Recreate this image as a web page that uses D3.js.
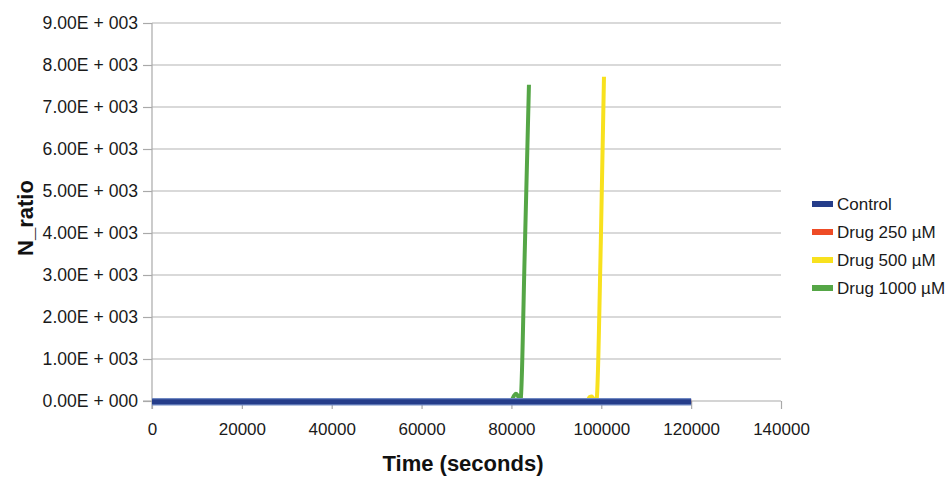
<!DOCTYPE html>
<html>
<head>
<meta charset="utf-8">
<script src="https://cdn.jsdelivr.net/npm/d3@7"></script>
<style>
  html, body { margin: 0; padding: 0; background: #fff; }
  svg { display: block; font-family: "Liberation Sans", Arial, sans-serif; }
</style>
</head>
<body>
<svg id="chart" width="949" height="477"></svg>
<script>
// ---- Data ----
const seriesNames = ["Control", "Drug 250 \u00b5M", "Drug 500 \u00b5M", "Drug 1000 \u00b5M"];
const seriesColors = ["#253d8a", "#ee4b25", "#f8e11e", "#55a646"];

const controlTime = [0, 10000, 20000, 30000, 40000, 50000, 60000, 70000, 80000, 90000, 100000, 110000, 120000];
const controlValue = [0, 0, 0, 0, 0, 0, 0, 0, 0, 0, 0, 0, 0];

const drug250Time = [0, 20000, 40000, 60000, 80000, 100000, 120000];
const drug250Value = [0, 0, 0, 0, 0, 0, 0];

const drug500Time = [0, 20000, 40000, 60000, 80000, 95000, 96800, 97400, 97900, 98500, 98900, 99900, 100600];
const drug500Value = [0, 0, 0, 0, 0, 0, 0, 90, 110, 0, 0, 3800, 7720];

const drug1000Time = [0, 20000, 40000, 60000, 78000, 79900, 80600, 81000, 81400, 82000, 83000, 83900];
const drug1000Value = [0, 0, 0, 0, 0, 0, 130, 170, 130, 0, 3700, 7530];

const xTicks = [0, 20000, 40000, 60000, 80000, 100000, 120000, 140000];
const yTicks = [0, 1000, 2000, 3000, 4000, 5000, 6000, 7000, 8000, 9000];
const yTickLabels = ["0.00E + 000", "1.00E + 003", "2.00E + 003", "3.00E + 003", "4.00E + 003",
                     "5.00E + 003", "6.00E + 003", "7.00E + 003", "8.00E + 003", "9.00E + 003"];

// ---- Chart ----
const svg = d3.select("#chart");
const x = d3.scaleLinear().domain([0, 140000]).range([152, 781]);
const y = d3.scaleLinear().domain([0, 9000]).range([401, 23]);

// gridlines
svg.append("g").selectAll("line").data(yTicks.slice(1)).join("line")
  .attr("x1", x(0)).attr("x2", x(140000))
  .attr("y1", d => y(d)).attr("y2", d => y(d))
  .attr("stroke", "#b3b3b3").attr("stroke-width", 1.2);

// y axis
const yAxis = d3.axisLeft(y).tickValues(yTicks).tickSize(9).tickPadding(5)
  .tickFormat((d, i) => yTickLabels[i]);
const gy = svg.append("g").attr("transform", `translate(${x(0)},0)`).call(yAxis);
gy.select(".domain").attr("stroke", "#a9a9a9").attr("stroke-width", 1.2)
  .attr("d", `M0,${y(9000)}V${y(0) + 8}`);
gy.selectAll(".tick line").attr("stroke", "#a9a9a9").attr("stroke-width", 1.2);
gy.selectAll(".tick text").attr("font-size", 17.6).attr("fill", "#1a1a1a")
  .attr("font-family", "Liberation Sans, Arial, sans-serif");

// x axis
const xAxis = d3.axisBottom(x).tickValues(xTicks).tickSize(8).tickPadding(14)
  .tickFormat(d3.format("d"));
const gx = svg.append("g").attr("transform", `translate(0,${y(0)})`).call(xAxis);
gx.select(".domain").attr("stroke", "#a9a9a9").attr("stroke-width", 1.2)
  .attr("d", `M${x(0) - 9},0H${x(140000)}`);
gx.selectAll(".tick line").attr("stroke", "#a9a9a9").attr("stroke-width", 1.2);
gx.selectAll(".tick text").attr("font-size", 17).attr("fill", "#1a1a1a")
  .attr("font-family", "Liberation Sans, Arial, sans-serif");

// lines
const line = d3.line().x(d => x(d[0])).y(d => y(d[1])).curve(d3.curveMonotoneX);
const lineStraight = d3.line().x(d => x(d[0])).y(d => y(d[1]));
const zip = (a, b) => a.map((t, i) => [t, b[i]]);

const s1000 = zip(drug1000Time, drug1000Value);
const s500 = zip(drug500Time, drug500Value);
const s250 = zip(drug250Time, drug250Value);
const sCtrl = zip(controlTime, controlValue);

svg.append("path").datum(s1000).attr("d", line).attr("fill", "none")
  .attr("stroke", seriesColors[3]).attr("stroke-width", 4).attr("stroke-linejoin", "round");
svg.append("path").datum(s500).attr("d", line).attr("fill", "none")
  .attr("stroke", seriesColors[2]).attr("stroke-width", 4).attr("stroke-linejoin", "round");
svg.append("path").datum(s250).attr("d", lineStraight).attr("fill", "none")
  .attr("stroke", seriesColors[1]).attr("stroke-width", 4);
svg.append("path").datum(sCtrl).attr("d", lineStraight).attr("fill", "none")
  .attr("stroke", "#6f88c2").attr("stroke-width", 7.5).attr("transform", "translate(0,0.8)");
svg.append("path").datum(sCtrl).attr("d", lineStraight).attr("fill", "none")
  .attr("stroke", seriesColors[0]).attr("stroke-width", 5).attr("transform", "translate(0,0.8)");

// axis titles
svg.append("text").attr("x", 463).attr("y", 471).attr("text-anchor", "middle")
  .attr("font-size", 22).attr("font-weight", "bold").attr("fill", "#111")
  .text("Time (seconds)");
svg.append("text").attr("transform", "translate(33,218) rotate(-90)").attr("text-anchor", "middle")
  .attr("font-size", 22).attr("font-weight", "bold").attr("fill", "#111")
  .text("N_ratio");

// legend
const legend = svg.append("g").selectAll("g").data(seriesNames).join("g")
  .attr("transform", (d, i) => `translate(812,${204 + i * 28})`);
legend.append("rect").attr("x", 0).attr("y", -3).attr("width", 21).attr("height", 6)
  .attr("fill", (d, i) => seriesColors[i]);
legend.append("text").attr("x", 25).attr("y", 6).attr("font-size", 17).attr("fill", "#1a1a1a")
  .text(d => d);
</script>
</body>
</html>
